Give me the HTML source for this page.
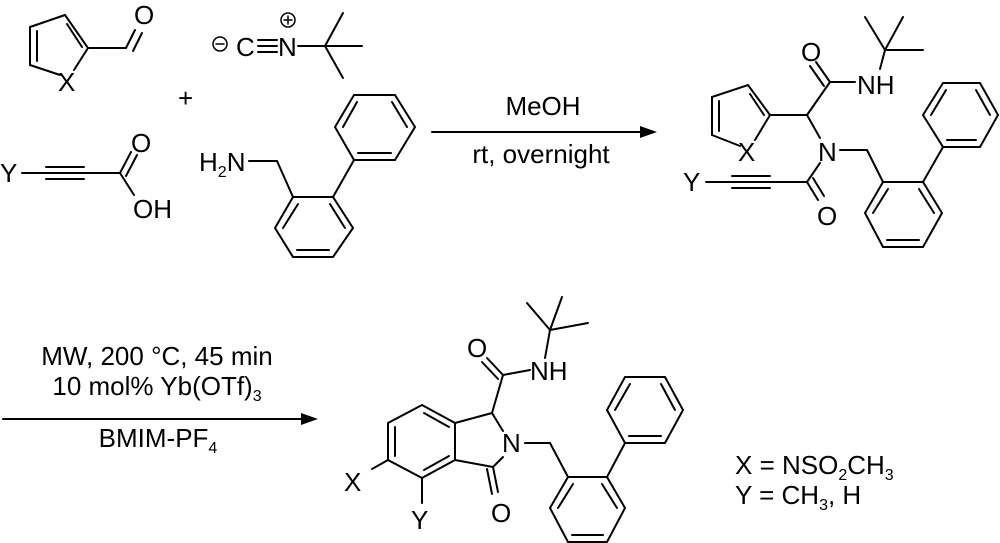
<!DOCTYPE html>
<html><head><meta charset="utf-8"><style>
html,body{margin:0;padding:0;background:#fff;}
svg{display:block;}
text{font-family:"Liberation Sans",Arial,sans-serif;font-size:26px;fill:#000;}
.s{font-size:16px;}
</style></head><body>
<svg width="1000" height="543" viewBox="0 0 1000 543" xmlns="http://www.w3.org/2000/svg">
<g stroke="#000" stroke-width="2" fill="none" stroke-linecap="round">
<!-- furan aldehyde -->
<polyline points="60,75 30,65 30,27 65,15 88,48 74,70"/>
<line x1="37" y1="31" x2="37" y2="61"/>
<line x1="67" y1="24" x2="82" y2="47"/>
<line x1="88" y1="48" x2="126" y2="48"/>
<line x1="126" y1="48" x2="135" y2="30"/>
<line x1="133" y1="51" x2="142" y2="33"/>
<!-- isocyanide -->
<line x1="258" y1="40" x2="277" y2="40"/>
<line x1="258" y1="46" x2="277" y2="46"/>
<line x1="258" y1="52" x2="277" y2="52"/>
<line x1="298" y1="46" x2="325" y2="46"/>
<line x1="325" y1="46" x2="343" y2="13"/>
<line x1="325" y1="46" x2="362" y2="46"/>
<line x1="325" y1="46" x2="343" y2="78"/>
<circle cx="220" cy="44" r="7" stroke-width="1.5"/>
<line x1="216" y1="44" x2="224" y2="44" stroke-width="1.5"/>
<circle cx="288" cy="20" r="7" stroke-width="1.5"/>
<line x1="284" y1="20" x2="292" y2="20" stroke-width="1.5"/>
<line x1="288" y1="16" x2="288" y2="24" stroke-width="1.5"/>
<!-- alkyne acid -->
<line x1="22" y1="173" x2="120" y2="173"/>
<line x1="46" y1="167" x2="84" y2="167"/>
<line x1="46" y1="179" x2="84" y2="179"/>
<line x1="120" y1="173" x2="131" y2="152"/>
<line x1="126" y1="176" x2="137" y2="155"/>
<line x1="120" y1="173" x2="134" y2="195"/>
<!-- amine -->
<line x1="249" y1="161" x2="277" y2="161"/>
<line x1="277" y1="161" x2="293" y2="197"/>
<polygon points="293,197 333,197 353,228 333,257 293,257 275,228"/>
<line x1="297" y1="250" x2="329" y2="250"/>
<line x1="283" y1="228" x2="298" y2="204"/>
<line x1="345" y1="228" x2="330" y2="204"/>
<line x1="333" y1="197" x2="354" y2="160"/>
<polygon points="354,160 395,160 415,127 395,95 354,95 335,127"/>
<line x1="358" y1="153" x2="391" y2="153"/>
<line x1="343" y1="127" x2="357" y2="102"/>
<line x1="407" y1="127" x2="392" y2="102"/>
<!-- arrow 1 -->
<line x1="432" y1="132" x2="645" y2="132"/>
<!-- product 1 -->
<polyline points="740,146 712,135 712,97 748,85 770,115 755,140"/>
<line x1="719" y1="101" x2="719" y2="131"/>
<line x1="750" y1="94" x2="764" y2="115"/>
<line x1="770" y1="115" x2="807" y2="115"/>
<line x1="807" y1="115" x2="830" y2="82"/>
<line x1="830" y1="82" x2="816" y2="62"/>
<line x1="824" y1="86" x2="810" y2="66"/>
<line x1="830" y1="82" x2="855" y2="82"/>
<line x1="880" y1="69" x2="885" y2="50"/>
<line x1="885" y1="50" x2="865" y2="17"/>
<line x1="885" y1="50" x2="903" y2="17"/>
<line x1="885" y1="50" x2="923" y2="50"/>
<line x1="807" y1="115" x2="820" y2="138"/>
<line x1="840" y1="150" x2="867" y2="150"/>
<line x1="867" y1="150" x2="883" y2="182"/>
<polygon points="883,182 923,182 942,213 923,247 883,247 865,213"/>
<line x1="887" y1="240" x2="919" y2="240"/>
<line x1="873" y1="213" x2="888" y2="189"/>
<line x1="934" y1="213" x2="919" y2="189"/>
<line x1="923" y1="182" x2="943" y2="147"/>
<polygon points="943,147 980,147 998,115 980,83 943,83 923,115"/>
<line x1="947" y1="140" x2="976" y2="140"/>
<line x1="931" y1="115" x2="946" y2="90"/>
<line x1="990" y1="115" x2="976" y2="90"/>
<line x1="820" y1="163" x2="807" y2="182"/>
<line x1="807" y1="182" x2="818" y2="200"/>
<line x1="813" y1="178" x2="824" y2="196"/>
<line x1="706" y1="182" x2="807" y2="182"/>
<line x1="732" y1="176" x2="770" y2="176"/>
<line x1="732" y1="188" x2="770" y2="188"/>
<!-- arrow 2 -->
<line x1="3" y1="419" x2="306" y2="419"/>
<!-- product 2 -->
<polygon points="422,405 455,423 455,460 422,478 388,460 388,423"/>
<line x1="395" y1="427" x2="395" y2="456"/>
<line x1="424" y1="413" x2="449" y2="427"/>
<line x1="424" y1="470" x2="449" y2="456"/>
<line x1="455" y1="423" x2="492" y2="413"/>
<line x1="492" y1="413" x2="503" y2="431"/>
<line x1="503" y1="457" x2="493" y2="467"/>
<line x1="493" y1="467" x2="455" y2="460"/>
<line x1="493" y1="467" x2="498" y2="492"/>
<line x1="487" y1="469" x2="492" y2="494"/>
<line x1="388" y1="460" x2="372" y2="469"/>
<line x1="422" y1="478" x2="422" y2="503"/>
<line x1="492" y1="413" x2="503" y2="375"/>
<line x1="503" y1="375" x2="487" y2="358"/>
<line x1="498" y1="379" x2="482" y2="362"/>
<line x1="503" y1="375" x2="530" y2="370"/>
<line x1="545" y1="358" x2="550" y2="330"/>
<line x1="550" y1="330" x2="527" y2="303"/>
<line x1="550" y1="330" x2="562" y2="297"/>
<line x1="550" y1="330" x2="588" y2="323"/>
<line x1="525" y1="443" x2="550" y2="443"/>
<line x1="550" y1="443" x2="568" y2="477"/>
<polygon points="568,477 607,477 625,508 607,542 568,542 550,508"/>
<line x1="572" y1="535" x2="603" y2="535"/>
<line x1="558" y1="508" x2="573" y2="484"/>
<line x1="617" y1="508" x2="602" y2="484"/>
<line x1="607" y1="477" x2="625" y2="443"/>
<polygon points="625,443 665,443 683,410 665,377 625,377 607,410"/>
<line x1="629" y1="436" x2="661" y2="436"/>
<line x1="615" y1="410" x2="630" y2="384"/>
<line x1="675" y1="410" x2="661" y2="384"/>
</g>
<polygon points="657,132 640,126 640,138" fill="#000"/>
<polygon points="318,419 301,413 301,425" fill="#000"/>
<!-- labels -->
<text x="58" y="91">X</text>
<text x="134" y="24">O</text>
<text x="236" y="56">C</text>
<text x="278" y="56">N</text>
<text x="178" y="107">+</text>
<text x="0" y="182">Y</text>
<text x="131" y="152">O</text>
<text x="133" y="218">OH</text>
<text x="199" y="171">H<tspan class="s" dy="6">2</tspan><tspan dy="-6">N</tspan></text>
<text x="543" y="115" text-anchor="middle">MeOH</text>
<text x="541" y="163" text-anchor="middle">rt, overnight</text>
<text x="738" y="161">X</text>
<text x="801" y="61">O</text>
<text x="857" y="94">NH</text>
<text x="818" y="161">N</text>
<text x="683" y="191">Y</text>
<text x="817" y="225">O</text>
<text x="157" y="365" text-anchor="middle">MW, 200 °C, 45 min</text>
<text x="157" y="395" text-anchor="middle">10 mol% Yb(OTf)<tspan class="s" dy="6">3</tspan></text>
<text x="158" y="447" text-anchor="middle">BMIM-PF<tspan class="s" dy="6">4</tspan></text>
<text x="467" y="357">O</text>
<text x="530" y="380">NH</text>
<text x="502" y="452">N</text>
<text x="344" y="491">X</text>
<text x="411" y="529">Y</text>
<text x="491" y="522">O</text>
<text x="735" y="474">X = NSO<tspan class="s" dy="6">2</tspan><tspan dy="-6">CH</tspan><tspan class="s" dy="6">3</tspan></text>
<text x="735" y="504">Y = CH<tspan class="s" dy="6">3</tspan><tspan dy="-6">, H</tspan></text>
</svg>
</body></html>
